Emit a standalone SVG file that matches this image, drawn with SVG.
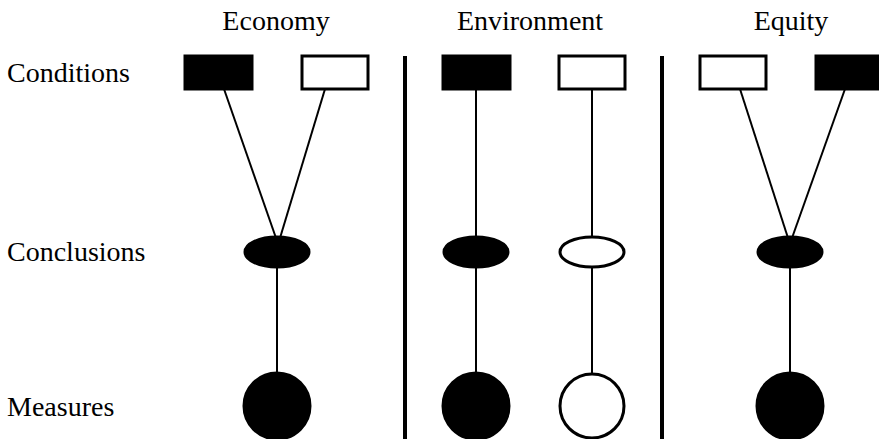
<svg xmlns="http://www.w3.org/2000/svg" width="879" height="439" viewBox="0 0 879 439">
<style>
text{font-family:"Liberation Serif","Times New Roman",serif;font-size:28px;fill:#000}
.f{fill:#000;stroke:#000;stroke-width:3}
.o{fill:#fff;stroke:#000;stroke-width:3}
.c line{stroke:#000;stroke-width:2}
.d{stroke:#000;stroke-width:4}
</style>
<rect width="879" height="439" fill="#fff"/>
<g id="labels">
<text x="276" y="30" text-anchor="middle">Economy</text>
<text x="530" y="30" text-anchor="middle">Environment</text>
<text x="791" y="30" text-anchor="middle">Equity</text>
<text x="7" y="82">Conditions</text>
<text x="7" y="261">Conclusions</text>
<text x="7" y="416">Measures</text>
</g>
<g id="dividers">
<line class="d" x1="405" y1="56" x2="405" y2="439"/>
<line class="d" x1="662" y1="56" x2="662" y2="439"/>
</g>
<g class="c" id="connectors">
<line x1="224" y1="89" x2="276" y2="238"/>
<line x1="325" y1="89" x2="280" y2="238"/>
<line x1="277" y1="266" x2="277" y2="378"/>
<line x1="476" y1="89" x2="476" y2="238"/>
<line x1="476" y1="266" x2="476" y2="378"/>
<line x1="592" y1="89" x2="592" y2="238"/>
<line x1="592" y1="266" x2="592" y2="378"/>
<line x1="740" y1="89" x2="788" y2="238"/>
<line x1="845" y1="89" x2="792" y2="238"/>
<line x1="790" y1="266" x2="790" y2="378"/>
</g>
<g id="eco-cond-1"><rect class="f" x="185" y="56" width="67" height="33"/></g>
<g id="eco-cond-2"><rect class="o" x="302" y="56" width="66" height="33"/></g>
<g id="env-cond-1"><rect class="f" x="443" y="56" width="67" height="33"/></g>
<g id="env-cond-2"><rect class="o" x="559" y="56" width="66" height="33"/></g>
<g id="eq-cond-1"><rect class="o" x="700" y="56" width="66" height="33"/></g>
<g id="eq-cond-2"><rect class="f" x="816" y="56" width="66" height="33"/></g>
<g id="eco-concl"><ellipse class="f" cx="277" cy="252" rx="32" ry="15"/></g>
<g id="env-concl-1"><ellipse class="f" cx="476" cy="252" rx="32" ry="15"/></g>
<g id="env-concl-2"><ellipse class="o" cx="592" cy="252" rx="32" ry="15"/></g>
<g id="eq-concl"><ellipse class="f" cx="790" cy="252" rx="32" ry="15"/></g>
<g id="eco-meas"><circle class="f" cx="277" cy="406" r="33"/></g>
<g id="env-meas-1"><circle class="f" cx="476" cy="406" r="33"/></g>
<g id="env-meas-2"><circle class="o" cx="592" cy="406" r="32"/></g>
<g id="eq-meas"><circle class="f" cx="790" cy="406" r="33"/></g>
</svg>
